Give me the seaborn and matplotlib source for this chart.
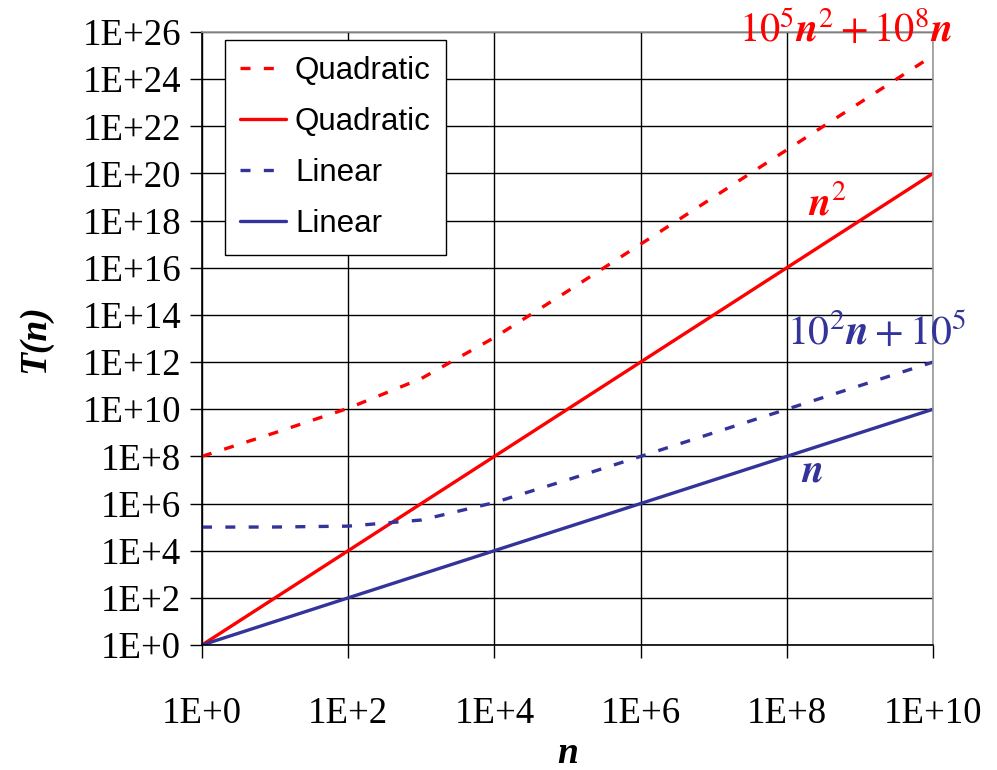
import matplotlib
matplotlib.use("Agg")
import matplotlib.pyplot as plt
import matplotlib.ticker as mticker
import seaborn as sns
import pandas as pd
import numpy as np

# ---- data ----
n_vals = [1e0, 1e1, 1e2, 1e3, 1e4, 1e5, 1e6, 1e7, 1e8, 1e9, 1e10]
quad_full = [1.001e8, 1.01e9, 1.1e10, 2e11, 1.1e13, 1.01e15, 1e17, 1e19, 1e21, 1e23, 1e25]
quad_simple = [1e0, 1e2, 1e4, 1e6, 1e8, 1e10, 1e12, 1e14, 1e16, 1e18, 1e20]
lin_full = [1.001e5, 1.01e5, 1.1e5, 2e5, 1.1e6, 1.01e7, 1.001e8, 1.0001e9, 1e10, 1e11, 1e12]
lin_simple = [1e0, 1e1, 1e2, 1e3, 1e4, 1e5, 1e6, 1e7, 1e8, 1e9, 1e10]

series_labels = ["Quadratic", "Quadratic", "Linear", "Linear"]
x_ticks = [1e0, 1e2, 1e4, 1e6, 1e8, 1e10]
y_ticks = [10.0 ** k for k in range(0, 27, 2)]

RED = "#FF0000"
BLUE = "#333399"

sns.set_style("white")
plt.rcParams["font.family"] = ["Liberation Serif", "DejaVu Serif"]
plt.rcParams["mathtext.fontset"] = "stix"
for key in ["text.color", "axes.labelcolor", "xtick.color", "ytick.color"]:
    plt.rcParams[key] = "black"

fig = plt.figure(figsize=(9.97, 7.70), dpi=100)
ax = fig.add_axes([202 / 997, 1 - 645 / 770, (933 - 202) / 997, (645 - 32) / 770])

lw = 2.4
specs = [
    (quad_full, RED, (3.0, 4.0)),
    (quad_simple, RED, None),
    (lin_full, BLUE, (3.0, 4.0)),
    (lin_simple, BLUE, None),
]
for (vals, col, dash), lab in zip(specs, series_labels):
    df = pd.DataFrame({"n": n_vals, "T": vals})
    line_ax = sns.lineplot(data=df, x="n", y="T", ax=ax, color=col, linewidth=lw, label=lab)
    ln = line_ax.get_lines()[-1]
    if dash is not None:
        ln.set_dashes(dash)

ax.set_xscale("log")
ax.set_yscale("log")
ax.set_xlim(1e0, 1e10)
ax.set_ylim(1e0, 1e26)
ax.xaxis.set_major_locator(mticker.FixedLocator(x_ticks))
ax.yaxis.set_major_locator(mticker.FixedLocator(y_ticks))
ax.xaxis.set_minor_locator(mticker.NullLocator())
ax.yaxis.set_minor_locator(mticker.NullLocator())

def efmt(v, pos):
    return "1E+%d" % int(round(np.log10(v)))

ax.xaxis.set_major_formatter(mticker.FuncFormatter(efmt))
ax.yaxis.set_major_formatter(mticker.FuncFormatter(efmt))

ax.grid(True, which="major", color="black", linewidth=1.0)
ax.tick_params(axis="both", which="major", direction="out", length=9, width=1.0,
               color="black", labelcolor="black", labelsize=26.5, left=True, bottom=True)
ax.tick_params(axis="x", pad=28)
ax.tick_params(axis="y", pad=6)
for s in ["left", "bottom"]:
    ax.spines[s].set_color("black")
    ax.spines[s].set_linewidth(1.2)
for s in ["top", "right"]:
    ax.spines[s].set_color("#999999")
    ax.spines[s].set_linewidth(1.2)

ax.set_xlabel("n", fontsize=27, fontweight="bold", fontstyle="italic", labelpad=4, color="black")
ax.set_ylabel("T(n)", fontsize=27, fontweight="bold", fontstyle="italic", labelpad=22, color="black")

leg = ax.legend(loc="upper left", bbox_to_anchor=(0.031, 0.987), frameon=True,
                fancybox=False, edgecolor="black", framealpha=1,
                prop={"family": "Liberation Sans", "size": 22.5},
                handlelength=1.45, handletextpad=0.3, labelspacing=0.68,
                borderpad=0.5, borderaxespad=0)
leg.get_frame().set_linewidth(1.0)
for t in leg.get_texts():
    t.set_color("black")

ax.text(0.880, 1.003, r"$10^5\boldsymbol{n}^2+10^8\boldsymbol{n}$", transform=ax.transAxes,
        color=RED, fontsize=29, ha="center", va="center", clip_on=False)
ax.text(0.856, 0.718, r"$\boldsymbol{n}^2$", transform=ax.transAxes,
        color=RED, fontsize=29, ha="center", va="center")
ax.text(0.923, 0.509, r"$10^2\boldsymbol{n}+10^5$", transform=ax.transAxes,
        color=BLUE, fontsize=30, ha="center", va="center", clip_on=False)
ax.text(0.834, 0.282, r"$\boldsymbol{n}$", transform=ax.transAxes,
        color=BLUE, fontsize=29, ha="center", va="center")

fig.savefig("out.png", dpi=100)
